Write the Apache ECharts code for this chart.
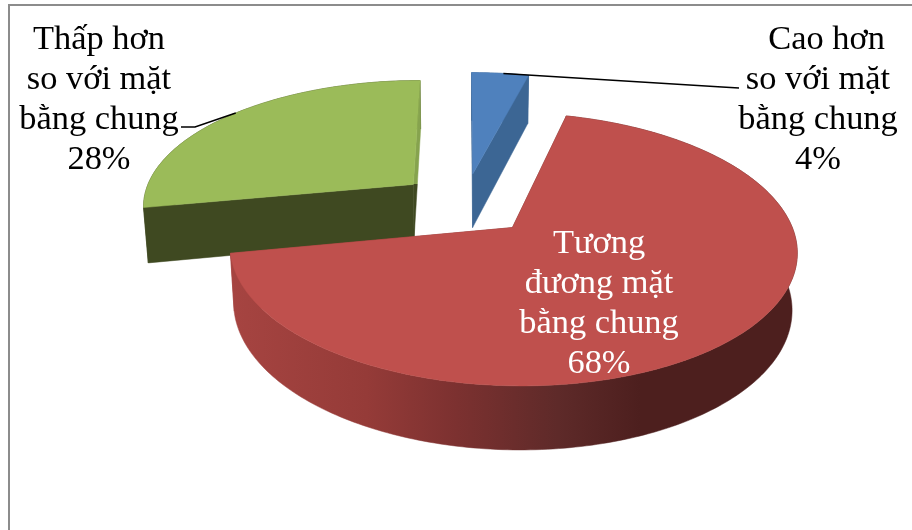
<!DOCTYPE html>
<html>
<head>
<meta charset="utf-8">
<style>html,body{margin:0;padding:0;background:#fff}#c{width:912px;height:530px}</style>
<script src="https://cdn.jsdelivr.net/npm/echarts@6/dist/echarts.min.js"></script>
</head>
<body>
<div id="c"></div>
<script>
const categories = ['Cao hơn', 'Tương đương mặt bằng chung', 'Thấp hơn'];
const labelLines = ['  Cao hơn\nso với mặt\nbằng chung', 'Tương\nđương mặt\nbằng chung', 'Thấp hơn\nso với mặt\nbằng chung'];
const values = [4, 68, 28];

const topColors = ['#4f81bd', '#bf504d', '#9bbb59'];
const wallColors = ['#3c6694', null, '#3f4921'];
const drawRank = [1, 2, 0];
const labelPos = [[818, 100], [599, 304], [99, 100]];
const labelColor = ['#000', '#fff', '#000'];
const leaderAngle = [8, null, 311];
const leaderTail = [[[722, 87], [739, 88]], null, [[195, 127], [181, 127]]];

// Projection of the tilted disc
const CX = 464.5, CY = 204, R = 272, EXPLODE = 68, TILT = 0.462, PERSP = 0.155, DEPTH = 56, DEPTH_PERSP = 0.015;
const total = values.reduce((a, b) => a + b, 0);
const rad = d => d * Math.PI / 180;

function project(midDeg, r, deg, h) {
  const X = EXPLODE * Math.sin(rad(midDeg)) + r * R * Math.sin(rad(deg));
  const Z = EXPLODE * Math.cos(rad(midDeg)) + r * R * Math.cos(rad(deg));
  const w = 1 + PERSP * Z / R + DEPTH_PERSP * h;
  return [CX + X / w, CY + (-TILT * Z + DEPTH * h) / w];
}

function arc(mid, a0, a1, h) {
  const pts = [];
  const n = Math.max(2, Math.ceil(Math.abs(a1 - a0)));
  for (let k = 0; k <= n; k++) pts.push(project(mid, 1, a0 + (a1 - a0) * k / n, h));
  return pts;
}

const redWall = {
  type: 'linear', x: 232, y: 0, x2: 640, y2: 0, global: true,
  colorStops: [
    { offset: 0, color: '#a64441' },
    { offset: 0.33, color: '#953b38' },
    { offset: 0.55, color: '#7c3130' },
    { offset: 0.8, color: '#5e2a29' },
    { offset: 1, color: '#4d1f1e' }
  ]
};
// The thin far edge of the green slice: light beside its top face, dark beside its front face
const greenEdge = {
  type: 'linear', x: 0, y: 80, x2: 0, y2: 240, global: true,
  colorStops: [
    { offset: 0, color: '#86a34e' },
    { offset: 0.65, color: '#86a34e' },
    { offset: 0.65, color: '#3f4921' },
    { offset: 1, color: '#3f4921' }
  ]
};
const cutColors = [['#3a6390', '#3c6694'], [null, null], ['#3f4921', greenEdge]];

function renderItem(params, api) {
  const i = params.dataIndex;
  const v = api.value(0);
  let before = 0;
  for (let k = 0; k < i; k++) before += values[k];
  const a0 = before / total * 360;
  const a1 = (before + v) / total * 360;
  const mid = (a0 + a1) / 2;
  const base = drawRank[i] * 10;
  const wallFill = wallColors[i] || redWall;
  const children = [];

  const poly = (points, fill, z) => ({
    type: 'polygon', shape: { points }, z2: base + z,
    style: { fill, stroke: fill, lineWidth: 0.5 }
  });

  const topArc = arc(mid, a0, a1, 0);
  const botArc = arc(mid, a0, a1, 1);
  children.push(poly(topArc.concat(botArc.slice().reverse()), wallFill, 0));

  [a0, a1].forEach((a, idx) => {
    const cut = [project(mid, 0, a, 0), project(mid, 1, a, 0), project(mid, 1, a, 1), project(mid, 0, a, 1)];
    children.push(poly(cut, cutColors[i][idx] || wallFill, idx === 0 ? 1 : 2));
  });

  children.push(poly([project(mid, 0, 0, 0)].concat(topArc), topColors[i], 3));

  if (leaderTail[i]) {
    children.push({
      type: 'polyline', z2: 50,
      shape: { points: [project(mid, 1, leaderAngle[i], 0)].concat(leaderTail[i]) },
      style: { stroke: '#000', lineWidth: 1.5, fill: null }
    });
  }

  children.push({
    type: 'text', z2: 60,
    style: {
      text: labelLines[i] + '\n' + v + '%',
      x: labelPos[i][0], y: labelPos[i][1],
      align: 'center', verticalAlign: 'middle',
      fontFamily: '"Liberation Serif", serif', fontSize: 34.4, lineHeight: 40,
      fill: labelColor[i]
    }
  });

  return { type: 'group', children };
}

const chart = echarts.init(document.getElementById('c'), null, { renderer: 'canvas' });
chart.setOption({
  animation: false,
  backgroundColor: '#fff',
  graphic: [{
    type: 'polyline', z: 100,
    shape: { points: [[9, 530], [9, 5], [912, 5]] },
    style: { stroke: '#8c8c8c', lineWidth: 2, fill: null }
  }],
  series: [{
    type: 'custom',
    coordinateSystem: 'none',
    renderItem,
    data: values.map((v, i) => ({ name: categories[i], value: [v] }))
  }]
});
</script>
</body>
</html>
